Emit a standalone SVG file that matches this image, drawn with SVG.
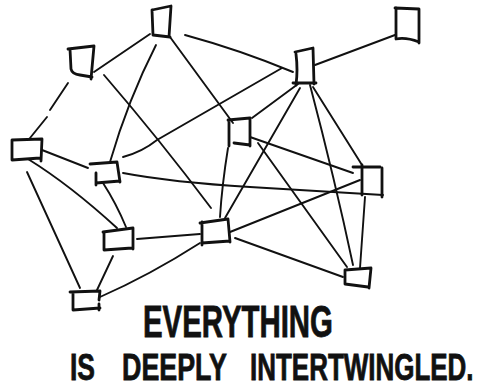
<svg xmlns="http://www.w3.org/2000/svg" width="485" height="392" viewBox="0 0 485 392">
<style>
.bg{fill:#fff}
.box{fill:none;stroke:#111;stroke-width:2.8;stroke-linecap:round;stroke-linejoin:round}
.edge{fill:none;stroke:#111;stroke-width:1.9;stroke-linecap:round}
.lbl{font-family:"Liberation Sans",Arial,sans-serif;font-weight:bold;fill:#111;stroke:#111;stroke-width:0.8}
</style>
<rect class="bg" x="0" y="0" width="485" height="392"/>
<g id="connectors">
<path class="edge" d="M150,34 L94,72"/>
<path class="edge" d="M156,45 Q128,100 110,162"/>
<path class="edge" d="M170,37 Q200,78 233,123"/>
<path class="edge" d="M185,35 Q240,50 293,72"/>
<path class="edge" d="M68,83 L50,110 M47,117 L30,138"/>
<path class="edge" d="M104,75 Q160,140 211,208"/>
<path class="edge" d="M315,65 L395,35"/>
<path class="edge" d="M123,157 Q142,152 157,140 L282,68"/>
<path class="edge" d="M298,84 L252,118"/>
<path class="edge" d="M300,88 L225,218"/>
<path class="edge" d="M313,87 L362,165"/>
<path class="edge" d="M310,85 Q335,180 353,265"/>
<path class="edge" d="M42,150 L88,168"/>
<path class="edge" d="M28,159 Q70,185 117,228"/>
<path class="edge" d="M27,172 L80,288"/>
<path class="edge" d="M103,183 Q116,203 126,227"/>
<path class="edge" d="M123,173 C160,180 200,184 250,187 L383,195"/>
<path class="edge" d="M250,137 L353,173"/>
<path class="edge" d="M228,148 Q222,185 220,217"/>
<path class="edge" d="M258,143 L347,267"/>
<path class="edge" d="M230,232 L360,180"/>
<path class="edge" d="M365,197 L360,268"/>
<path class="edge" d="M343,277 L235,238"/>
<path class="edge" d="M137,239 L200,234"/>
<path class="edge" d="M100,297 Q150,275 200,243"/>
<path class="edge" d="M113,256 L97,290"/>
</g>
<g id="nodeA"><path class="box" d="M152,10 L171,6 L169,37 M152,10 L153,35 L170,37"/></g>
<g id="nodeB"><path class="box" d="M68,49 L94,46 L91,79 M70,49 L71,69 Q72,74 80,75 L92,77"/></g>
<g id="nodeC"><path class="box" d="M395,8 L419,9 L419,43 M396,8 L396,39 Q406,37 419,42"/></g>
<g id="nodeD"><path class="box" d="M295,52 L313,48 L314,84 M296,54 Q298,70 296,85 M293,83 L316,83"/></g>
<g id="nodeE"><path class="box" d="M12,140 L42,139 L41,161 M12,140 L12,160 L40,158"/></g>
<g id="nodeF"><path class="box" d="M90,164 L117,162 L120,182 M96,173 L96,185 M96,183 L120,181"/></g>
<g id="nodeG"><path class="box" d="M228,120 L250,118 L250,146 M229,121 L229,146 M234,143 L250,145"/></g>
<g id="nodeH"><path class="box" d="M353,167 L380,167 M362,165 L362,195 M382,168 L382,197"/></g>
<g id="nodeI"><path class="box" d="M200,223 L228,219 L230,242 M202,222 L202,245 M202,243 L230,241"/></g>
<g id="nodeJ"><path class="box" d="M103,232 L133,228 L133,249 M104,232 L104,250 L132,248"/></g>
<g id="nodeK"><path class="box" d="M70,292 L100,291 L99,300 M99,304 L99,310 M73,292 L73,310 L100,308"/></g>
<g id="nodeL"><path class="box" d="M345,270 L371,268 L369,288 M345,270 L345,284 L368,287"/></g>
<g id="caption">
<text class="lbl" transform="translate(143,337) scale(0.664,1)" x="0" y="0" font-size="44" textLength="286" lengthAdjust="spacingAndGlyphs">EVERYTHING</text>
<text class="lbl" transform="translate(70,380) scale(0.714,1)" x="0" y="0" font-size="37" textLength="35" lengthAdjust="spacingAndGlyphs">IS</text>
<text class="lbl" transform="translate(122,380) scale(0.709,1)" x="0" y="0" font-size="37" textLength="148" lengthAdjust="spacingAndGlyphs">DEEPLY</text>
<text class="lbl" transform="translate(250,380) scale(0.703,1)" x="0" y="0" font-size="37" textLength="318" lengthAdjust="spacingAndGlyphs">INTERTWINGLED.</text>
</g>
</svg>
